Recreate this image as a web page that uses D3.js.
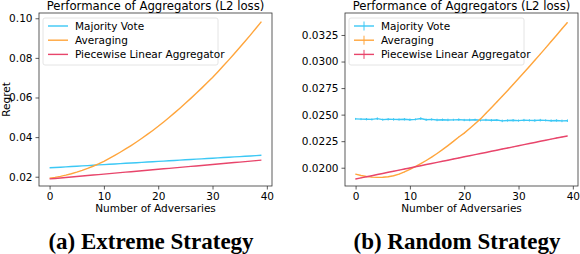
<!DOCTYPE html>
<html>
<head>
<meta charset="utf-8">
<script src="https://cdn.jsdelivr.net/npm/d3@7"></script>
<style>
  body { margin: 0; background: #fff; }
</style>
</head>
<body>
<svg id="chart" width="580" height="254" font-family="DejaVu Sans, sans-serif"></svg>
<script>
const adversaries = d3.range(0, 40);
const seriesNames = ["Majority Vote", "Averaging", "Piecewise Linear Aggregator"];
const seriesColors = ["#3cc8f5", "#ffa53c", "#e8456b"];

// (a) Extreme Strategy
const extremeMajority = [0.0245, 0.02466, 0.02482, 0.02499, 0.02515, 0.02531, 0.02547, 0.02563, 0.0258, 0.02596,
  0.02612, 0.02628, 0.02644, 0.02661, 0.02677, 0.02693, 0.02709, 0.02725, 0.02742, 0.02758,
  0.02774, 0.0279, 0.02806, 0.02823, 0.02839, 0.02855, 0.02871, 0.02887, 0.02904, 0.0292,
  0.02936, 0.02952, 0.02968, 0.02985, 0.03001, 0.03017, 0.03033, 0.03049, 0.03066, 0.03082];
const extremeAveraging = [0.0193, 0.0197, 0.0202, 0.0208, 0.0215, 0.0223, 0.0232, 0.0242, 0.0253, 0.0265,
  0.0278, 0.02925, 0.03077, 0.03236, 0.03402, 0.03575, 0.03755, 0.03942, 0.04136, 0.04337,
  0.04545, 0.04765, 0.04991, 0.05223, 0.05461, 0.05705, 0.05955, 0.06211, 0.06473, 0.06741,
  0.07015, 0.07304, 0.07599, 0.079, 0.08207, 0.0852, 0.08839, 0.09164, 0.09495, 0.09832];
const extremePiecewise = [0.0189, 0.01914, 0.01938, 0.01963, 0.01987, 0.02011, 0.02035, 0.0206, 0.02084, 0.02108,
  0.02133, 0.02157, 0.02181, 0.02205, 0.0223, 0.02254, 0.02278, 0.02302, 0.02327, 0.02351,
  0.02375, 0.024, 0.02424, 0.02448, 0.02472, 0.02497, 0.02521, 0.02545, 0.02569, 0.02594,
  0.02618, 0.02642, 0.02667, 0.02691, 0.02715, 0.02739, 0.02764, 0.02788, 0.02812, 0.02836];

// (b) Random Strategy
const randomMajority = [0.0246, 0.02458, 0.02457, 0.02455, 0.02462, 0.02453, 0.02456, 0.02455, 0.02454, 0.02456,
  0.02452, 0.02455, 0.02463, 0.02452, 0.02455, 0.0245, 0.02452, 0.0245, 0.02451, 0.02453,
  0.02449, 0.0245, 0.02452, 0.02448, 0.0245, 0.02447, 0.02449, 0.02441, 0.02445, 0.02447,
  0.02444, 0.02448, 0.02446, 0.02445, 0.02448, 0.02446, 0.02443, 0.02445, 0.02441, 0.02443];
const randomMajorityErr = [0.00009, 0.0001, 0.00011, 0.0001, 0.00012, 0.0001, 0.00011, 0.00012, 0.0001, 0.00011,
  0.00012, 0.0001, 0.00012, 0.00011, 0.0001, 0.00012, 0.00011, 0.00012, 0.0001, 0.00012,
  0.00011, 0.00012, 0.0001, 0.00012, 0.00011, 0.00012, 0.0001, 0.00012, 0.00011, 0.00012,
  0.0001, 0.00012, 0.00011, 0.00012, 0.00012, 0.0001, 0.00012, 0.00011, 0.00012, 0.00012];
const randomAveraging = [0.0194, 0.01927, 0.01918, 0.01912, 0.01909, 0.0191, 0.01915, 0.01925, 0.0194, 0.0196,
  0.01985, 0.0201, 0.02038, 0.02068, 0.021, 0.02134, 0.0217, 0.02208, 0.02248, 0.0229,
  0.02326, 0.0237, 0.02415, 0.0246, 0.02512, 0.02565, 0.02619, 0.02673, 0.02728, 0.02784,
  0.0284, 0.02897, 0.02954, 0.03012, 0.0307, 0.03129, 0.03188, 0.03248, 0.03308, 0.03368];
const randomPiecewise = [0.01894, 0.01904, 0.01915, 0.01925, 0.01936, 0.01946, 0.01957, 0.01967, 0.01977, 0.01988,
  0.01998, 0.02009, 0.02019, 0.0203, 0.0204, 0.0205, 0.02061, 0.02071, 0.02082, 0.02092,
  0.02103, 0.02113, 0.02123, 0.02134, 0.02144, 0.02155, 0.02165, 0.02176, 0.02186, 0.02196,
  0.02207, 0.02217, 0.02228, 0.02238, 0.02249, 0.02259, 0.0227, 0.0228, 0.02289, 0.02299];
const smallErr = 0.00003;

const xTicks = [0, 10, 20, 30, 40];
const extremeYTicks = [0.02, 0.04, 0.06, 0.08, 0.10];
const randomYTicks = [0.0200, 0.0225, 0.0250, 0.0275, 0.0300, 0.0325];

const svg = d3.select("#chart");

function panel(opts) {
  const { left, right, top, bottom, yDomain, yTicks, yFormat, series, errorBars, caption, captionX, ylabel } = opts;
  const g = svg.append("g");
  const x = d3.scaleLinear().domain([-1.95, 40.95]).range([left, right]);
  const y = d3.scaleLinear().domain(yDomain).range([bottom, top]);

  const line = d3.line().x((d, i) => x(adversaries[i])).y(d => y(d));

  series.forEach((s, k) => {
    if (errorBars) {
      g.append("g").selectAll("line").data(s.values).join("line")
        .attr("x1", (d, i) => x(adversaries[i])).attr("x2", (d, i) => x(adversaries[i]))
        .attr("y1", (d, i) => y(d - s.err[i])).attr("y2", (d, i) => y(d + s.err[i]))
        .attr("stroke", seriesColors[k]).attr("stroke-width", 1);
    }
    g.append("path").datum(s.values).attr("d", line)
      .attr("fill", "none").attr("stroke", seriesColors[k]).attr("stroke-width", 1.4);
  });

  const xAxis = g.append("g").attr("transform", `translate(0,${bottom})`)
    .call(d3.axisBottom(x).tickValues(xTicks).tickSize(3.5).tickPadding(3).tickFormat(d3.format("d")));
  const yAxis = g.append("g").attr("transform", `translate(${left},0)`)
    .call(d3.axisLeft(y).tickValues(yTicks).tickSize(3.5).tickPadding(3).tickFormat(yFormat));
  [xAxis, yAxis].forEach(a => {
    a.select(".domain").remove();
    a.selectAll("text").attr("font-size", 10.5).attr("fill", "#000").attr("font-family", "DejaVu Sans");
    a.selectAll("line").attr("stroke", "#333").attr("stroke-width", 0.8);
  });

  g.append("rect").attr("x", left).attr("y", top).attr("width", right - left).attr("height", bottom - top)
    .attr("fill", "none").attr("stroke", "#333").attr("stroke-width", 0.8);

  g.append("text").attr("x", (left + right) / 2).attr("y", 10).attr("text-anchor", "middle")
    .attr("font-size", 11.7).text("Performance of Aggregators (L2 loss)");
  g.append("text").attr("x", (left + right) / 2).attr("y", 212).attr("text-anchor", "middle")
    .attr("font-size", 10.5).text("Number of Adversaries");
  if (ylabel) {
    g.append("text").attr("transform", `translate(10,${(top + bottom) / 2}) rotate(-90)`)
      .attr("text-anchor", "middle").attr("font-size", 10.5).text(ylabel);
  }

  // legend
  const lg = g.append("g").attr("transform", `translate(${left + 4},${top + 5})`);
  lg.append("rect").attr("width", 175).attr("height", 47).attr("rx", 2)
    .attr("fill", "#fff").attr("fill-opacity", 0.8).attr("stroke", "#ddd").attr("stroke-width", 0.8);
  seriesNames.forEach((name, k) => {
    const yy = 8 + k * 14.2;
    lg.append("line").attr("x1", 5).attr("x2", 25).attr("y1", yy).attr("y2", yy)
      .attr("stroke", seriesColors[k]).attr("stroke-width", 1.4);
    if (errorBars) {
      lg.append("line").attr("x1", 15).attr("x2", 15).attr("y1", yy - 4.5).attr("y2", yy + 4.5)
        .attr("stroke", seriesColors[k]).attr("stroke-width", 1);
    }
    lg.append("text").attr("x", 32).attr("y", yy + 3.8).attr("font-size", 10.5).text(name);
  });

  svg.append("text").attr("x", captionX).attr("y", 249).attr("text-anchor", "middle")
    .style("font-family", "'Liberation Serif', serif").style("font-weight", "bold").attr("font-size", 23)
    .text(caption);
}

panel({
  left: 39, right: 272, top: 13, bottom: 186,
  yDomain: [0.01532, 0.10266], yTicks: extremeYTicks, yFormat: d3.format(".2f"),
  series: [{ values: extremeMajority }, { values: extremeAveraging }, { values: extremePiecewise }],
  errorBars: false, caption: "(a) Extreme Strategy", captionX: 151, ylabel: "Regret"
});

panel({
  left: 345, right: 578, top: 13, bottom: 186,
  yDomain: [0.01828, 0.03457], yTicks: randomYTicks, yFormat: d3.format(".4f"),
  series: [
    { values: randomMajority, err: randomMajorityErr },
    { values: randomAveraging, err: randomAveraging.map(() => smallErr) },
    { values: randomPiecewise, err: randomPiecewise.map(() => smallErr) }
  ],
  errorBars: true, caption: "(b) Random Strategy", captionX: 457, ylabel: null
});
</script>
</body>
</html>
